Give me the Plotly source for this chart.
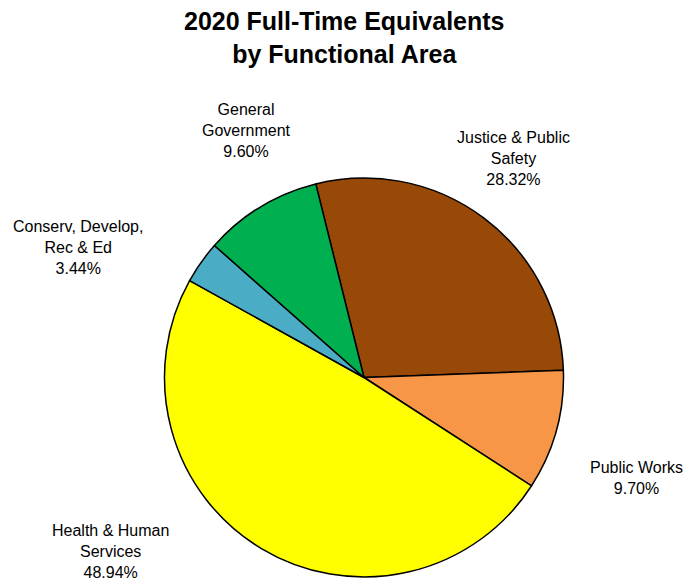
import plotly.graph_objects as go

# Data
labels = ["Justice & Public Safety", "Public Works", "Health & Human Services",
          "Conserv, Develop, Rec & Ed", "General Government"]
label_lines = ["Justice & Public<br>Safety", "Public Works", "Health & Human<br>Services",
               "Conserv, Develop,<br>Rec & Ed", "General<br>Government"]
values = [28.32, 9.70, 48.94, 3.44, 9.60]
colors = ["#984807", "#F79646", "#FFFF00", "#4BACC6", "#00B050"]

W, H = 688, 581

# Label positions (pixel centers in the 688x581 window)
label_pos = [(513, 158), (636, 478), (110, 551), (78, 248), (246, 130)]
cx, cy, r = 364, 377.5, 199.5


def px2paper(px, py):
    return px / W, 1 - py / H


fig = go.Figure(go.Pie(
    labels=labels,
    values=values,
    sort=False,
    direction="clockwise",
    rotation=-14,
    marker=dict(colors=colors, line=dict(color="black", width=1.5)),
    textinfo="none",
    hoverinfo="label+percent",
    showlegend=False,
    domain=dict(x=[(cx - r) / W, (cx + r) / W], y=[1 - (cy + r) / H, 1 - (cy - r) / H]),
))

total = sum(values)
for txt, v, (px, py) in zip(label_lines, values, label_pos):
    ax, ay = px2paper(px, py)
    fig.add_annotation(
        text=f"{txt}<br>{v / total * 100:.2f}%",
        x=ax, y=ay, xref="paper", yref="paper",
        xanchor="center", yanchor="middle", showarrow=False,
        font=dict(family="Liberation Sans, Arial, sans-serif", size=16, color="#000000"),
        align="center",
    )

tx, ty = px2paper(344, 37)
fig.add_annotation(
    text="<b>2020 Full-Time Equivalents<br>by Functional Area</b>",
    x=tx, y=ty, xref="paper", yref="paper",
    xanchor="center", yanchor="middle", showarrow=False, align="center",
    font=dict(family="Liberation Sans, Arial, sans-serif", size=25, color="#000000"),
)

fig.update_layout(
    width=W, height=H,
    margin=dict(l=0, r=0, t=0, b=0),
    paper_bgcolor="white", plot_bgcolor="white",
)

fig.write_html(
    "out.html",
    config={"displayModeBar": False},
    post_script="document.body.style.margin='0';document.body.style.overflow='hidden';",
)
